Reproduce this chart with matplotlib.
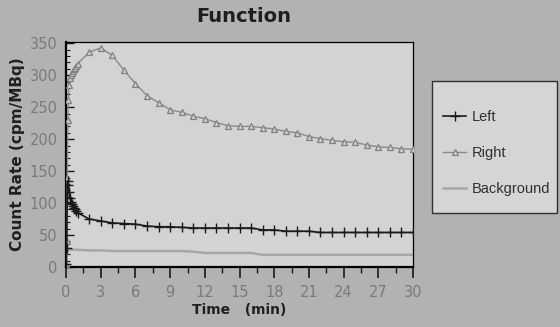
import numpy as np
import matplotlib
matplotlib.use("Agg")
import matplotlib.pyplot as plt
from matplotlib.patches import Rectangle
from matplotlib.ticker import MultipleLocator

# --- data (time in min, count rate in cpm/MBq) ----------------------------
t_early = [0.0, 0.05, 0.1, 0.15, 0.2, 0.25, 0.33, 0.42, 0.5, 0.6, 0.7, 0.8, 0.9]
t_late = list(range(1, 31))
time = t_early + t_late

left_early = [5, 30, 110, 135, 128, 118, 108, 102, 98, 95, 92, 90, 88]
left_late = [85, 75, 72, 69, 68, 67, 64, 63, 63, 62, 61, 61, 61, 61, 61,
             61, 58, 58, 56, 56, 56, 54, 54, 54, 54, 54, 54, 54, 54, 54]
left = left_early + left_late

right_early = [5, 40, 140, 230, 262, 285, 295, 300, 304, 307, 310, 312, 315]
right_late = [318, 336, 343, 331, 308, 287, 268, 257, 246, 242, 236, 232,
              226, 221, 220, 220, 218, 216, 212, 210, 204, 201, 198, 196,
              195, 191, 188, 187, 185, 184]
right = right_early + right_late

bg_early = [10, 18, 24, 26, 27, 27, 27, 27, 27, 27, 27, 27, 27]
bg_late = [27, 26, 26, 25, 25, 25, 25, 25, 25, 25, 24, 22, 22, 22, 22,
           22, 19, 19, 19, 19, 19, 19, 19, 19, 19, 19, 19, 19, 19, 19]
background = bg_early + bg_late

# --- figure ---------------------------------------------------------------
fig = plt.figure(figsize=(5.6, 3.27), dpi=100)
fig.patch.set_facecolor("#b2b2b2")
ax = fig.add_axes([0.118, 0.1835, 0.6195, 0.688])
ax.set_facecolor("#d3d3d3")

ax.plot(time, background, color="#a6a6a6", lw=1.8, label="Background", zorder=2)
ax.plot(time, right, color="#8a8a8a", lw=1.0, marker="^", ms=5,
        mfc="#cfcfcf", mec="#808080", mew=0.9, label="Right", zorder=3)
ax.plot(time, left, color="#1a1a1a", lw=1.2, marker="+", ms=7,
        mew=1.0, label="Left", zorder=4)

ax.set_xlim(0, 30)
ax.set_ylim(0, 352)
ax.xaxis.set_major_locator(MultipleLocator(3))
ax.xaxis.set_minor_locator(MultipleLocator(1.5))
ax.yaxis.set_major_locator(MultipleLocator(50))
ax.yaxis.set_minor_locator(MultipleLocator(10))
ax.tick_params(axis="x", which="major", direction="out", length=8, width=1.2,
               colors="#1a1a1a", labelcolor="#7a7a7a", labelsize=10.5, pad=5)
ax.tick_params(axis="x", which="minor", direction="out", length=4, width=1.0,
               colors="#1a1a1a")
ax.tick_params(axis="y", which="major", direction="in", length=6, width=1.0,
               colors="#1a1a1a", labelcolor="#7a7a7a", labelsize=10.5, pad=6)
ax.tick_params(axis="y", which="minor", direction="in", length=3, width=0.8,
               colors="#1a1a1a")
for side in ("left", "bottom"):
    ax.spines[side].set_linewidth(1.6)
for side in ("top", "right"):
    ax.spines[side].set_linewidth(0.9)

ax.set_xlabel("Time   (min)", fontsize=10, fontweight="bold", color="#202020",
              labelpad=2)
ax.set_ylabel("Count Rate (cpm/MBq)", fontsize=11, fontweight="bold",
              color="#202020", labelpad=3)
fig.text(0.435, 0.95, "Function", ha="center", va="center", fontsize=14,
         fontweight="bold", color="#1e1e1e")

# legend box drawn by hand, entries placed inside it
fig.patches.append(Rectangle((0.771, 0.349), 0.223, 0.404,
                             transform=fig.transFigure, facecolor="#d5d5d5",
                             edgecolor="#303030", lw=1.0, zorder=1))
handles, labels = ax.get_legend_handles_labels()
order = [2, 1, 0]
leg = fig.legend([handles[i] for i in order], [labels[i] for i in order],
                 loc="center left", bbox_to_anchor=(0.791, 0.532),
                 frameon=False, prop={"family": "Liberation Sans", "size": 10.5},
                 labelspacing=1.5, handlelength=1.6, borderpad=0,
                 handletextpad=0.35, borderaxespad=0)
for txt in leg.get_texts():
    txt.set_color("#303030")

fig.savefig("out.png", dpi=100, facecolor=fig.get_facecolor())
